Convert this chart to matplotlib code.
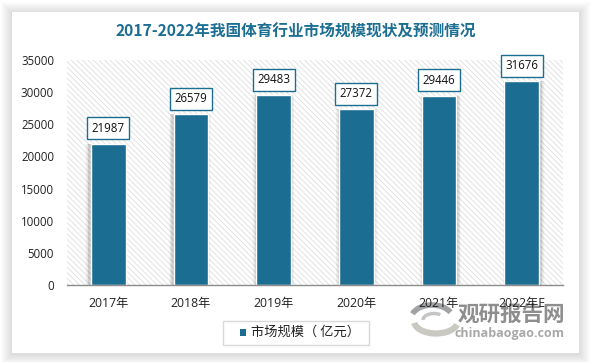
# -*- coding: utf-8 -*-
import matplotlib
matplotlib.use("Agg")
import matplotlib.pyplot as plt
from matplotlib.patches import Rectangle, Arc

plt.rcParams["font.family"] = ["Open Sans", "Noto Sans CJK SC", "DejaVu Sans"]
plt.rcParams["hatch.linewidth"] = 0.6

years = ["2017年", "2018年", "2019年", "2020年", "2021年", "2022年E"]
market_size = [21987, 26579, 29483, 27372, 29446, 31676]
y_ticks = [0, 5000, 10000, 15000, 20000, 25000, 30000, 35000]

W, H = 590, 362
BLUE = "#1c6d92"

fig = plt.figure(figsize=(W / 100, H / 100), dpi=100, facecolor="white")

# background layer in pixel coordinates (y goes down)
bg = fig.add_axes([0, 0, 1, 1], zorder=0)
bg.set_xlim(0, W)
bg.set_ylim(H, 0)
bg.axis("off")

# soft card shadow, a little lower than the card
for grow in range(11, 0, -1):
    bg.add_patch(Rectangle((12 - grow, 13 - grow), 567 + 2 * grow, 341 + 2 * grow,
                           fc="black", ec="none", alpha=0.011))
bg.add_patch(Rectangle((12, 12), 567, 341, fc="white", ec="none"))

# watermark sits under the axis labels
bg.add_patch(Arc((436, 321), 44, 25, theta1=10, theta2=175, ec="#c9c9c2", lw=4.5))
bg.add_patch(Arc((432, 319), 42, 28, theta1=195, theta2=340, ec="#9fa3a5", lw=4))
bg.add_patch(Arc((434, 320), 22, 13, theta1=180, theta2=320, ec="#c4c6c6", lw=2.5))
bg.text(511, 315, "观研报告网", ha="center", va="center", fontsize=15.5, fontweight="bold",
        color="#8e8e8e")
bg.text(509.5, 333, "chinabaogao.com", ha="center", va="center", fontsize=9,
        fontweight="bold", color="#a8a8a8")

# plot area
ax = fig.add_axes([67 / W, 1 - 285 / H, (563 - 67) / W, (285 - 60) / H], zorder=1)
ax.patch.set_visible(False)
ax.set_xlim(-0.5, 5.5)
ax.set_ylim(0, 35000)
ax.add_patch(Rectangle((0, 0), 1, 1, transform=ax.transAxes, fc="white",
                       ec="#dedede", lw=0, hatch="\\\\\\\\\\\\", zorder=0))

x = list(range(len(years)))
bar_w = 0.42

# bar shadows spread away from the middle of the chart
for extra, a in ((0.09, 0.02), (0.07, 0.03), (0.05, 0.04), (0.03, 0.05), (0.015, 0.06)):
    ax.bar([i + (i - 2.5) * 0.01 for i in x], market_size, width=bar_w + extra,
           color="black", alpha=a, lw=0, zorder=1)
ax.bar(x, market_size, width=bar_w, color=BLUE, edgecolor="white", linewidth=1, zorder=2)

for i, v in zip(x, market_size):
    ax.annotate(str(v), (i, v), xytext=(0, 9), textcoords="offset pixels",
                ha="center", va="bottom", fontsize=8.3, color="#111111", zorder=4,
                bbox=dict(boxstyle="square,pad=0.39", fc="white", ec=BLUE, lw=1))

for s in ("top", "right", "left"):
    ax.spines[s].set_visible(False)
ax.spines["bottom"].set_color("#8c8c8c")
ax.spines["bottom"].set_linewidth(1)

ax.set_yticks(y_ticks)
ax.set_xticks(x)
ax.set_xticklabels(years)
ax.tick_params(axis="both", length=0, colors="#222222")
ax.tick_params(axis="y", pad=9.4, labelsize=8.3)
ax.tick_params(axis="x", pad=9, labelsize=8.8)

# title and legend
bg.text(296, 32, "2017-2022年我国体育行业市场规模现状及预测情况", ha="center", va="center",
        fontsize=11.25, fontweight="bold", color=BLUE, family=["Noto Sans CJK SC", "DejaVu Sans"])
bg.add_patch(Rectangle((222.5, 320.5), 146, 24, fc="white", ec="#d9d9d9", lw=1))
bg.add_patch(Rectangle((240, 329), 6, 6.5, fc=BLUE, ec="none"))
bg.text(251, 332, "市场规模（ 亿元）", ha="left", va="center", fontsize=9.5, color="#222222",
        family=["Noto Sans CJK SC", "DejaVu Sans"])

fig.savefig("out.png", dpi=100)
